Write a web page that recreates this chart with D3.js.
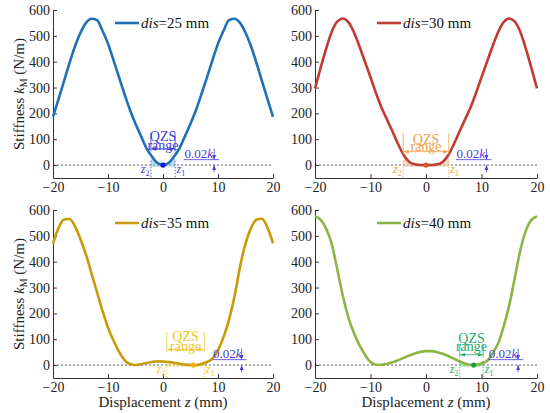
<!DOCTYPE html>
<html>
<head>
<meta charset="utf-8">
<script src="https://cdn.jsdelivr.net/npm/d3@7"></script>
<style>
  body { margin: 0; background: #fff; }
  svg { display: block; }
</style>
</head>
<body>
<div id="chart"></div>
<script>
// values
const disValues = [25, 30, 35, 40];
const zSamples = [-20, -19, -18, -17, -16, -15, -14, -13, -12, -11, -10, -9, -8, -7, -6, -5, -4, -3, -2, -1,
  0, 1, 2, 3, 4, 5, 6, 7, 8, 9, 10, 11, 12, 13, 14, 15, 16, 17, 18, 19, 20];
const k25 = [187, 255, 325, 395, 460, 512, 550, 566, 561, 520, 470, 406, 340, 275, 213, 160, 112, 65, 33, 8,
  0, 8, 33, 65, 112, 160, 213, 275, 340, 406, 470, 520, 561, 566, 550, 512, 460, 395, 325, 255, 187];
const k30 = [297, 375, 450, 515, 555, 567, 553, 515, 460, 400, 340, 278, 222, 175, 128, 80, 38, 12, 3, 0.5,
  0, 0.5, 3, 12, 38, 80, 128, 175, 222, 278, 340, 400, 460, 515, 553, 567, 555, 515, 450, 375, 297];
const k35 = [471, 530, 563, 565, 537, 487, 427, 355, 282, 210, 145, 95, 52, 19, 4, 0.5, 3, 8, 12, 14.5,
  14, 12, 9, 5, 2, 0.3, 0.3, 4, 12, 25, 58, 108, 175, 265, 380, 470, 530, 562, 566, 532, 471];
const k40 = [575, 563, 528, 470, 372, 270, 185, 125, 78, 40, 12, 1.5, 1, 5, 11, 19, 28, 37, 45, 51,
  54, 54, 50, 44, 35, 25, 15, 6, 1, 1, 7, 16, 45, 84, 150, 232, 338, 445, 520, 562, 575];
const kSeries = [k25, k30, k35, k40];

// QZS annotations (data units)
const qzsZ2 = [-2.2, -4.1, 0.7, 6.1];
const qzsZ1 = [2.2, 4.1, 7.5, 10.3];
const minZ = [0, 0, 5.5, 8.6];
const qzsTextK = [114, 100, 114, 106];
const rangeTextK = [71, 68, 69, 67];
const bracketTopK = [125, 124, 128, 80];
const bracketArrowK = [63, 52, 60, 40];
const thresholdK = 21;
const thresholdTextZ = [3.9, 5.5, 9.1, 11.3];
const thresholdArrowZ = [9.3, 10.9, 14.3, 16.6];

const xTicks = [-20, -10, 0, 10, 20];
const yTicks = [0, 100, 200, 300, 400, 500, 600];

const lineColors = ['#1f70b5', '#c03b30', '#c99a08', '#8db546'];
const qzsColors = ['#3d3dd4', '#f0a04a', '#f2c424', '#1faa6c'];
const shadeColors = ['#8fcbe8', '#f7bfa0', '#f6dc80', '#87dca6'];
const dotColors = ['#1515e0', '#c2601c', '#f0b000', '#12a443'];
const thresholdColor = '#4b3bd8';

const font = '"Liberation Serif", "Times New Roman", serif';
const width = 550, height = 413;

const svg = d3.select('#chart').append('svg')
  .attr('width', width).attr('height', height)
  .style('font-family', font);

const defs = svg.append('defs');
const makeArrow = (id, color) => {
  defs.append('marker')
    .attr('id', id)
    .attr('viewBox', '0 0 10 10')
    .attr('refX', 10).attr('refY', 5)
    .attr('markerWidth', 5).attr('markerHeight', 5)
    .attr('markerUnits', 'userSpaceOnUse')
    .attr('orient', 'auto-start-reverse')
    .append('path').attr('d', 'M0,1L10,5L0,9z').attr('fill', color);
};
qzsColors.forEach((c, i) => makeArrow('arr' + i, c));
makeArrow('arrT', thresholdColor);

const cols = [{ x0: 53, x1: 273 }, { x0: 315, x1: 537 }];
const rows = [{ top: 10, bottom: 178 }, { top: 210, bottom: 378 }];

disValues.forEach((dis, i) => {
  const col = cols[i % 2], row = rows[Math.floor(i / 2)];
  const x = d3.scaleLinear().domain([-20, 20]).range([col.x0, col.x1]);
  const y = d3.scaleLinear().domain([-50, 600]).range([row.bottom, row.top]);
  const g = svg.append('g');
  const data = zSamples.map((z, j) => ({ z: z, k: kSeries[i][j] }));

  // axes
  const xAxis = d3.axisBottom(x).tickValues(xTicks).tickSizeInner(-4).tickSizeOuter(0).tickPadding(4);
  const yAxis = d3.axisLeft(y).tickValues(yTicks).tickSizeInner(-4).tickSizeOuter(0).tickPadding(3);
  const gx = g.append('g').attr('transform', 'translate(0,' + row.bottom + ')').call(xAxis);
  const gy = g.append('g').attr('transform', 'translate(' + col.x0 + ',0)').call(yAxis);
  [gx, gy].forEach(a => {
    a.attr('font-family', font).attr('font-size', 14);
    a.select('.domain').attr('stroke', '#333');
    a.selectAll('.tick line').attr('stroke', '#333');
    a.selectAll('.tick text').attr('fill', '#222');
  });

  // zero line
  g.append('line')
    .attr('x1', x(-20)).attr('x2', x(20))
    .attr('y1', y(0)).attr('y2', y(0))
    .attr('stroke', '#333').attr('stroke-width', 0.8)
    .attr('stroke-dasharray', '2,2');

  // shaded QZS region under the curve
  const clipId = 'clip' + i;
  defs.append('clipPath').attr('id', clipId)
    .append('rect')
    .attr('x', x(qzsZ2[i])).attr('width', x(qzsZ1[i]) - x(qzsZ2[i]))
    .attr('y', y(150)).attr('height', y(-10) - y(150));
  g.append('path')
    .datum(data)
    .attr('clip-path', 'url(#' + clipId + ')')
    .attr('fill', shadeColors[i]).attr('opacity', 0.6)
    .attr('d', d3.area().x(d => x(d.z)).y0(y(-6)).y1(d => y(d.k)).curve(d3.curveMonotoneX));

  // curve
  g.append('path')
    .datum(data)
    .attr('fill', 'none')
    .attr('stroke', lineColors[i])
    .attr('stroke-width', 2.6)
    .attr('d', d3.line().x(d => x(d.z)).y(d => y(d.k)).curve(d3.curveMonotoneX));

  // z1 / z2 dotted markers
  [qzsZ2[i], qzsZ1[i]].forEach(zv => {
    g.append('line')
      .attr('x1', x(zv)).attr('x2', x(zv))
      .attr('y1', y(thresholdK - 4)).attr('y2', y(-50))
      .attr('stroke', qzsColors[i]).attr('stroke-width', 0.8)
      .attr('stroke-dasharray', '1.5,1.5');
  });
  const zLabel = (zv, sub, anchor, dx) => {
    const t = g.append('text')
      .attr('x', x(zv) + dx).attr('y', y(-32))
      .attr('text-anchor', anchor)
      .attr('font-size', 12).attr('fill', qzsColors[i]);
    t.append('tspan').attr('font-style', 'italic').text('z');
    t.append('tspan').attr('font-size', 8).attr('dy', 3).text(sub);
  };
  zLabel(qzsZ2[i], '2', 'end', -1.5);
  zLabel(qzsZ1[i], '1', 'start', 1.5);

  // QZS bracket
  [qzsZ2[i], qzsZ1[i]].forEach(zv => {
    g.append('line')
      .attr('x1', x(zv)).attr('x2', x(zv))
      .attr('y1', y(bracketTopK[i])).attr('y2', y(bracketArrowK[i] - 10))
      .attr('stroke', qzsColors[i]).attr('stroke-width', 0.8);
  });
  g.append('line')
    .attr('x1', x(qzsZ2[i]) + 0.5).attr('x2', x(qzsZ1[i]) - 0.5)
    .attr('y1', y(bracketArrowK[i])).attr('y2', y(bracketArrowK[i]))
    .attr('stroke', qzsColors[i]).attr('stroke-width', 0.8)
    .attr('marker-start', 'url(#arr' + i + ')')
    .attr('marker-end', 'url(#arr' + i + ')');
  const midZ = (qzsZ2[i] + qzsZ1[i]) / 2;
  g.append('text')
    .attr('x', x(midZ)).attr('y', y(qzsTextK[i]) + 5)
    .attr('text-anchor', 'middle').attr('font-size', 14)
    .attr('fill', qzsColors[i]).text('QZS');
  g.append('text')
    .attr('x', x(midZ)).attr('y', y(rangeTextK[i]) + 3.5)
    .attr('text-anchor', 'middle').attr('font-size', 14)
    .attr('fill', qzsColors[i]).text('range');

  // minimum point
  g.append('circle')
    .attr('cx', x(minZ[i])).attr('cy', y(0)).attr('r', 2.6)
    .attr('fill', dotColors[i]);

  // 0.02k threshold marker
  g.append('line')
    .attr('x1', x(thresholdTextZ[i] - 0.1)).attr('x2', x(thresholdArrowZ[i] + 0.9))
    .attr('y1', y(thresholdK)).attr('y2', y(thresholdK))
    .attr('stroke', thresholdColor).attr('stroke-width', 0.8);
  g.append('line')
    .attr('x1', x(thresholdArrowZ[i])).attr('x2', x(thresholdArrowZ[i]))
    .attr('y1', y(64)).attr('y2', y(thresholdK))
    .attr('stroke', thresholdColor).attr('stroke-width', 0.8)
    .attr('marker-end', 'url(#arrT)');
  g.append('line')
    .attr('x1', x(thresholdArrowZ[i])).attr('x2', x(thresholdArrowZ[i]))
    .attr('y1', y(-28)).attr('y2', y(0))
    .attr('stroke', thresholdColor).attr('stroke-width', 0.8)
    .attr('marker-end', 'url(#arrT)');
  const tt = g.append('text')
    .attr('x', x(thresholdTextZ[i])).attr('y', y(thresholdK) - 1.5)
    .attr('font-size', 13).attr('fill', thresholdColor);
  tt.append('tspan').text('0.02');
  tt.append('tspan').attr('font-style', 'italic').text('k');

  // legend
  const lx = col.x0 + 62;
  const ly = row.top + 13;
  g.append('line')
    .attr('x1', lx).attr('x2', lx + 24)
    .attr('y1', ly).attr('y2', ly)
    .attr('stroke', lineColors[i]).attr('stroke-width', 2.6);
  const lt = g.append('text')
    .attr('x', lx + 26).attr('y', ly + 5)
    .attr('font-size', 15).attr('fill', '#111');
  lt.append('tspan').attr('font-style', 'italic').text('dis');
  lt.append('tspan').text('=' + dis + ' mm');
});

// y axis titles
rows.forEach(row => {
  const t = svg.append('text')
    .attr('transform', 'translate(24,' + ((row.top + row.bottom) / 2) + ') rotate(-90)')
    .attr('text-anchor', 'middle')
    .attr('font-size', 15).attr('fill', '#222');
  t.append('tspan').text('Stiffness ');
  t.append('tspan').attr('font-style', 'italic').text('k');
  t.append('tspan').attr('font-size', 10).attr('dy', 3).text('M');
  t.append('tspan').attr('dy', -3).text(' (N/m)');
});

// x axis titles
cols.forEach(col => {
  const t = svg.append('text')
    .attr('x', (col.x0 + col.x1) / 2).attr('y', 407)
    .attr('text-anchor', 'middle')
    .attr('font-size', 15).attr('fill', '#222');
  t.append('tspan').text('Displacement ');
  t.append('tspan').attr('font-style', 'italic').text('z');
  t.append('tspan').text(' (mm)');
});
</script>
</body>
</html>
